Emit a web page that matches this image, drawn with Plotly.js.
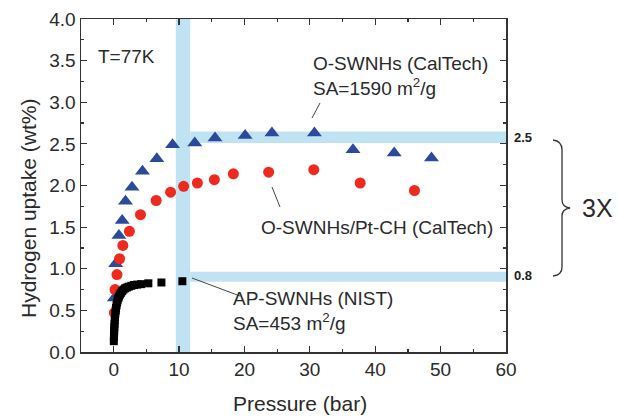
<!DOCTYPE html>
<html><head><meta charset="utf-8">
<script src="https://cdn.plot.ly/plotly-3.0.1.min.js"></script>
<style>html,body{margin:0;padding:0;background:#fff}#chart{width:618px;height:416px}</style>
</head><body><div id="chart"></div>
<script>
// O-SWNHs (CalTech), blue triangles
const blueP = [0.1, 0.3, 0.8, 1.3, 1.8, 2.8, 4.4, 6.6, 9.0, 12.4, 15.5, 20.1, 24.2, 30.7, 36.6, 42.9, 48.6];
const blueU = [0.65, 1.06, 1.40, 1.58, 1.81, 1.98, 2.17, 2.32, 2.49, 2.51, 2.57, 2.60, 2.63, 2.63, 2.43, 2.39, 2.33];
// O-SWNHs/Pt-CH (CalTech), red circles
const redP = [0.1, 0.2, 0.5, 0.9, 1.4, 2.4, 4.1, 6.5, 8.7, 10.7, 12.8, 15.4, 18.3, 23.7, 30.6, 37.7, 46.0];
const redU = [0.47, 0.75, 0.93, 1.12, 1.28, 1.45, 1.65, 1.82, 1.92, 1.99, 2.03, 2.07, 2.14, 2.16, 2.19, 2.03, 1.94];
// AP-SWNHs (NIST), black squares
const blackP = [0.02, 0.04, 0.06, 0.08, 0.1, 0.13, 0.16, 0.2, 0.25, 0.3, 0.36, 0.43, 0.5, 0.6, 0.7, 0.8, 0.95, 1.1, 1.3, 1.5, 1.75, 2.0, 2.3, 2.7, 3.1, 3.6, 4.2, 5.3, 7.3, 10.5];
const blackU = [0.13, 0.18, 0.22, 0.26, 0.30, 0.34, 0.38, 0.42, 0.46, 0.50, 0.53, 0.56, 0.59, 0.62, 0.645, 0.665, 0.69, 0.71, 0.73, 0.75, 0.765, 0.775, 0.785, 0.795, 0.805, 0.81, 0.815, 0.825, 0.835, 0.85];

const xTickVals = [0, 10, 20, 30, 40, 50, 60];
const yTickVals = [0, 0.5, 1.0, 1.5, 2.0, 2.5, 3.0, 3.5, 4.0];

const FONT = 'Liberation Sans, Arial, sans-serif';
const TXT = '#2a2a2a';
const BAND = 'rgb(192,227,244)';

// pixel -> paper helpers for decorations outside the plot
const L = 81, R = 506, T = 19, B = 352;
const px = x => (x - L) / (R - L);
const py = y => (B - y) / (B - T);
function pathFromPx(cmds) {
  return cmds.map(c => c[0] + ' ' + c.slice(1).reduce((a, v, i, arr) => {
    if (i % 2 === 0) a.push(px(v).toFixed(4) + ',' + py(arr[i + 1]).toFixed(4));
    return a;
  }, []).join(' ')).join(' ');
}
const bracePath = pathFromPx([
  ['M', 553, 140], ['Q', 562, 141, 562, 150], ['L', 562, 200], ['Q', 562, 207, 570, 208],
  ['Q', 562, 209, 562, 216], ['L', 562, 267], ['Q', 562, 275, 553, 276]
]);

const traces = [
  {x: blueP, y: blueU, mode: 'markers', type: 'scatter', name: 'O-SWNHs (CalTech)',
   marker: {symbol: 'triangle-up', size: 13, color: '#2c4a9c'}, cliponaxis: false},
  {x: redP, y: redU, mode: 'markers', type: 'scatter', name: 'O-SWNHs/Pt-CH (CalTech)',
   marker: {symbol: 'circle', size: 11, color: '#ee2a1e'}, cliponaxis: false},
  {x: blackP, y: blackU, mode: 'markers', type: 'scatter', name: 'AP-SWNHs (NIST)',
   marker: {symbol: 'square', size: 8, color: '#000'}, cliponaxis: false}
];

const axisCommon = {
  showline: true, linecolor: '#333', linewidth: 1.5, mirror: 'allticks',
  ticks: 'inside', ticklen: 6, tickwidth: 1.2, tickcolor: '#333',
  showgrid: false, zeroline: false,
  tickfont: {family: FONT, size: 19, color: TXT}
};

const layout = {
  width: 618, height: 416,
  margin: {l: L, r: 618 - R, t: T, b: 416 - B},
  paper_bgcolor: '#fff', plot_bgcolor: '#fff',
  showlegend: false,
  xaxis: Object.assign({}, axisCommon, {
    range: [-5, 60], tickvals: xTickVals, ticktext: xTickVals.map(String),
    minor: {dtick: 5, tick0: 0, ticks: 'inside', ticklen: 3, tickcolor: '#333', tickwidth: 1.2}
  }),
  yaxis: Object.assign({}, axisCommon, {
    range: [0, 4], tickvals: yTickVals, ticktext: yTickVals.map(v => v.toFixed(1)),
    minor: {dtick: 0.25, tick0: 0, ticks: 'inside', ticklen: 3, tickcolor: '#333', tickwidth: 1.2}
  }),
  shapes: [
    {type: 'rect', layer: 'below', xref: 'x', yref: 'y', x0: 9.5, x1: 11.7, y0: 0, y1: 4, fillcolor: BAND, line: {width: 0}},
    {type: 'rect', layer: 'below', xref: 'x', yref: 'y', x0: 11.7, x1: 60, y0: 2.51, y1: 2.65, fillcolor: BAND, line: {width: 0}},
    {type: 'rect', layer: 'below', xref: 'x', yref: 'y', x0: 11.7, x1: 60, y0: 0.845, y1: 0.965, fillcolor: BAND, line: {width: 0}},
    // leader lines
    {type: 'line', xref: 'paper', yref: 'paper', x0: px(312), y0: py(118), x1: px(320), y1: py(103), line: {color: '#444', width: 1}},
    {type: 'line', xref: 'paper', yref: 'paper', x0: px(272), y0: py(187), x1: px(280), y1: py(207), line: {color: '#444', width: 1}},
    {type: 'line', xref: 'paper', yref: 'paper', x0: px(192), y0: py(278), x1: px(240), y1: py(296), line: {color: '#444', width: 1}},
    // brace
    {type: 'path', xref: 'paper', yref: 'paper', path: bracePath, line: {color: '#333', width: 1.3}}
  ],
  annotations: [
    {xref: 'paper', yref: 'paper', x: px(96), y: py(57), xanchor: 'left', yanchor: 'middle', text: 'T=77K', showarrow: false, font: {family: FONT, size: 19, color: TXT}},
    {xref: 'paper', yref: 'paper', x: px(311), y: py(76), xanchor: 'left', yanchor: 'middle', align: 'left',
     text: 'O-SWNHs (CalTech)<br>SA=1590 m<sup>2</sup>/g', showarrow: false, font: {family: FONT, size: 19, color: TXT}},
    {xref: 'paper', yref: 'paper', x: px(495), y: py(228), xanchor: 'right', yanchor: 'middle',
     text: 'O-SWNHs/Pt-CH (CalTech)', showarrow: false, font: {family: FONT, size: 19, color: TXT}},
    {xref: 'paper', yref: 'paper', x: px(231), y: py(311), xanchor: 'left', yanchor: 'middle', align: 'left',
     text: 'AP-SWNHs (NIST)<br>SA=453 m<sup>2</sup>/g', showarrow: false, font: {family: FONT, size: 19, color: TXT}},
    {xref: 'paper', yref: 'paper', x: px(512), y: py(137), xanchor: 'left', yanchor: 'middle', text: '<b>2.5</b>', showarrow: false, font: {family: FONT, size: 13, color: '#222'}},
    {xref: 'paper', yref: 'paper', x: px(512), y: py(275), xanchor: 'left', yanchor: 'middle', text: '<b>0.8</b>', showarrow: false, font: {family: FONT, size: 13, color: '#222'}},
    {xref: 'paper', yref: 'paper', x: px(580), y: py(208), xanchor: 'left', yanchor: 'middle', text: '3X', showarrow: false, font: {family: FONT, size: 25, color: TXT}},
    {xref: 'paper', yref: 'paper', x: px(28), y: py(209), xanchor: 'center', yanchor: 'middle', textangle: -90,
     text: 'Hydrogen uptake (wt%)', showarrow: false, font: {family: FONT, size: 21, color: TXT}},
    {xref: 'paper', yref: 'paper', x: px(300), y: py(403), xanchor: 'center', yanchor: 'middle',
     text: 'Pressure (bar)', showarrow: false, font: {family: FONT, size: 21, color: TXT}}
  ]
};

Plotly.newPlot('chart', traces, layout, {displayModeBar: false, staticPlot: true});
</script>
</body></html>
